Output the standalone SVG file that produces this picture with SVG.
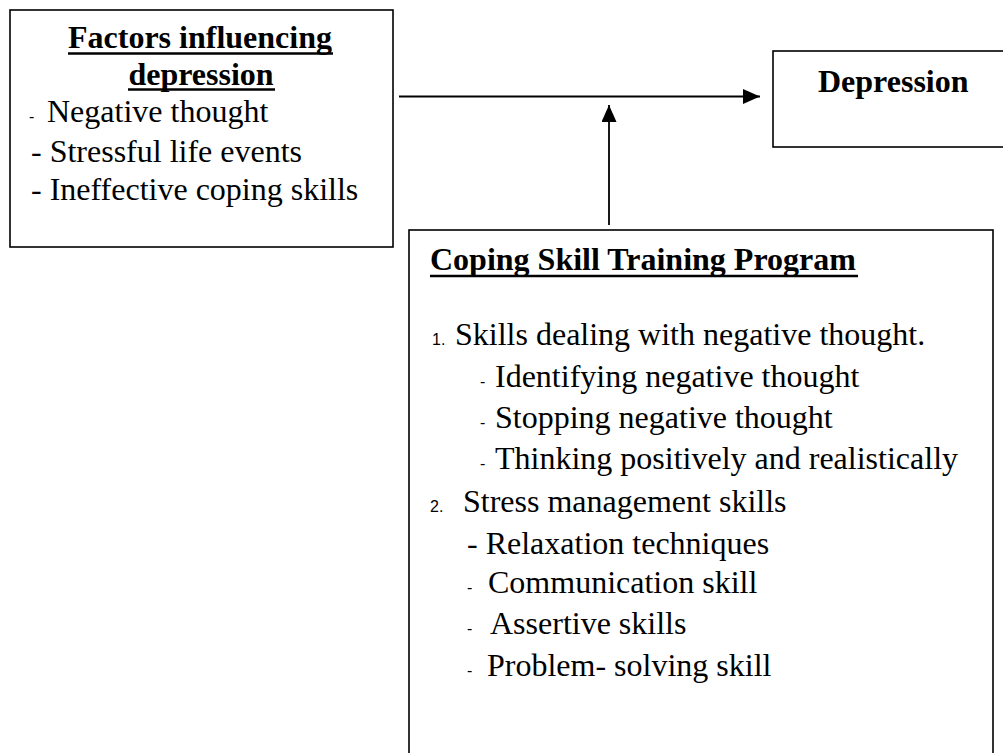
<svg xmlns="http://www.w3.org/2000/svg" width="1003" height="753" viewBox="0 0 1003 753">
<style>
.box{fill:#fff;stroke:#000;stroke-width:1.6}
.t{font-family:"Liberation Serif","Times New Roman",serif;font-size:32px;fill:#000}
.b{font-weight:bold}
.s{font-family:"Liberation Sans",Arial,sans-serif;font-size:16px;fill:#000}
.ul{stroke:#000;stroke-width:2.4}
.conn{stroke:#000;stroke-width:1.8;fill:none}
</style>
<defs>
<marker id="ah" markerUnits="userSpaceOnUse" markerWidth="17" markerHeight="15" refX="17" refY="7.5" orient="auto">
<path d="M0,0 L17,7.5 L0,15 z" fill="#000"/>
</marker>
</defs>
<rect width="1003" height="753" fill="#fff"/>
<g id="factors">
<rect class="box" x="10" y="10" width="383" height="237"/>
<text class="t b" x="200" y="48" text-anchor="middle">Factors influencing</text>
<line class="ul" x1="68" y1="53.5" x2="333" y2="53.5"/>
<text class="t b" x="201" y="85" text-anchor="middle">depression</text>
<line class="ul" x1="128" y1="89.5" x2="275" y2="89.5"/>
<text class="s" x="29" y="122">-</text>
<text class="t" x="47" y="122">Negative thought</text>
<text class="t" x="31" y="162">- Stressful life events</text>
<text class="t" x="31" y="200">- Ineffective coping skills</text>
</g>
<g id="depression">
<rect class="box" x="773" y="51" width="240" height="96"/>
<text class="t b" x="818" y="92">Depression</text>
</g>
<g id="coping">
<rect class="box" x="409" y="230" width="584" height="540"/>
<text class="t b" x="430" y="270">Coping Skill Training Program</text>
<line class="ul" x1="430" y1="276" x2="858" y2="276"/>
<text class="s" x="432" y="345">1.</text>
<text class="t" x="455" y="345">Skills dealing with negative thought.</text>
<text class="s" x="480" y="387">-</text>
<text class="t" x="495" y="387">Identifying negative thought</text>
<text class="s" x="480" y="428">-</text>
<text class="t" x="495" y="428">Stopping negative thought</text>
<text class="s" x="480" y="469">-</text>
<text class="t" x="495" y="469">Thinking positively and realistically</text>
<text class="s" x="430" y="512">2.</text>
<text class="t" x="463" y="512">Stress management skills</text>
<text class="t" x="467" y="554">- Relaxation techniques</text>
<text class="s" x="467" y="593">-</text>
<text class="t" x="488" y="593">Communication skill</text>
<text class="s" x="467" y="634">-</text>
<text class="t" x="490" y="634">Assertive skills</text>
<text class="s" x="467" y="676">-</text>
<text class="t" x="487" y="676">Problem- solving skill</text>
</g>
<g id="connectors">
<line class="conn" x1="399" y1="96.5" x2="760" y2="96.5" marker-end="url(#ah)"/>
<line class="conn" x1="609" y1="225" x2="609" y2="105" marker-end="url(#ah)"/>
</g>
</svg>
